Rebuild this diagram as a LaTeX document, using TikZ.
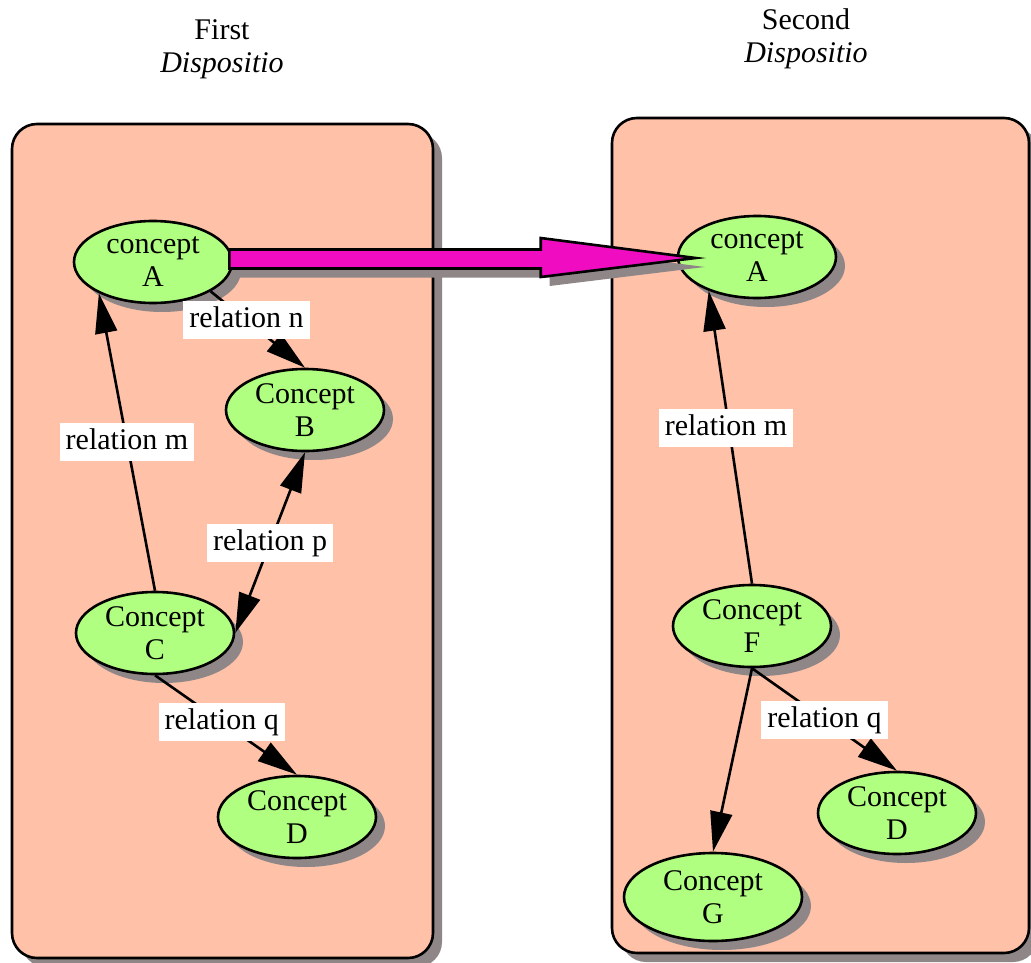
\documentclass[tikz,border=0pt]{standalone}
\usepackage{fontspec}
\setmainfont{Liberation Serif}
\usetikzlibrary{arrows.meta, positioning, calc, shapes.geometric, shadows}
\definecolor{boxfill}{RGB}{255,193,168}
\definecolor{conceptfill}{RGB}{176,255,128}
\definecolor{shadowgray}{RGB}{143,135,135}
\definecolor{transfer}{RGB}{240,12,192}

\begin{document}
\begin{tikzpicture}[
    x=1pt, y=-1pt,
    line width=2.6pt,
    font=\fontsize{30}{33}\selectfont,
    castshadow/.style={drop shadow={shadow xshift=9pt, shadow yshift=-9pt, fill=shadowgray, opacity=1}},
    concept/.style={ellipse, draw, fill=conceptfill, castshadow, align=center, inner xsep=0pt, inner ysep=-5pt,
        minimum width=158pt, minimum height=82pt, execute at begin node={\rule{0pt}{28pt}}},
    relation/.style={-{Triangle[length=40pt, width=22pt]}},
    lbl/.style={fill=white, inner xsep=6pt, inner ysep=4.5pt, text height=22pt, text depth=7pt}
]
\path[use as bounding box, clip] (0,0) rectangle (1031,963);

% Dispositio boxes
\draw[castshadow, fill=boxfill, rounded corners=25pt] (12,124) rectangle (433,958);
\draw[castshadow, fill=boxfill, rounded corners=25pt] (612,118) rectangle (1029,953);

\node[align=center] (title1) at (222,49) {First\\\textit{Dispositio}};
\node[align=center] (title2) at (806,39) {Second\\\textit{Dispositio}};

% First dispositio
\node[concept] (A1) at (153,262) {concept\\A};
\node[concept] (B) at (305,410) {Concept\\B};
\node[concept] (C) at (155,633) {Concept\\C};
\node[concept] (D1) at (297,817) {Concept\\D};

% Second dispositio
\node[concept] (A2) at (757,257) {concept\\A};
\node[concept] (F) at (752,626) {Concept\\F};
\node[concept] (D2) at (897,813) {Concept\\D};
\node[concept, minimum width=178pt, minimum height=88pt] (G) at (713,897) {Concept\\G};

% Relations
\draw[relation] (C.north) -- node[lbl] {relation m} (A1.210);
\draw[relation] (A1.333) -- node[lbl, pos=0.38] {relation n} (B.north);
\draw[{Triangle[length=40pt, width=22pt]}-{Triangle[length=40pt, width=22pt]}] (B.south) -- node[lbl] {relation p} (C.east);
\draw[relation] (C.south) -- node[lbl, pos=0.47] {relation q} (D1.north);

\draw[relation] (F.north) -- node[lbl, pos=0.53, xshift=-3pt] {relation m} (A2.215);
\draw[relation] (F.south) -- (G.north);
\draw[relation] (F.south) -- node[lbl] {relation q} (D2.north);

% Transfer arrow
\coordinate (tail) at ($(A1.east)+(-4,-3)$);
\coordinate (tip) at ($(A2.west)+(19,1)$);
\filldraw[castshadow, fill=transfer, line join=miter]
    ($(tail)+(0,-9.5)$) -- ($(tip)+(-155,-8.5)$) -- ($(tip)+(-155,-20)$) -- (tip)
    -- ($(tip)+(-155,19)$) -- ($(tip)+(-155,10.5)$) -- ($(tail)+(0,9.5)$) -- cycle;

\end{tikzpicture}
\end{document}
